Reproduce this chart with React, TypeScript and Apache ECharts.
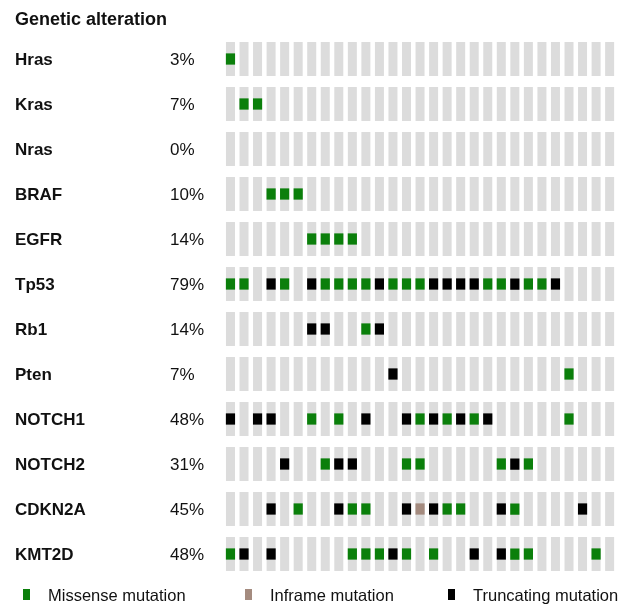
import React, { useEffect, useRef } from "react";
import * as echarts from "echarts";

const genes = ["Hras", "Kras", "Nras", "BRAF", "EGFR", "Tp53", "Rb1", "Pten", "NOTCH1", "NOTCH2", "CDKN2A", "KMT2D"];
const percentages = ["3%", "7%", "0%", "10%", "14%", "79%", "14%", "7%", "48%", "31%", "45%", "48%"];
const sampleCount = 29;
const samples = Array.from({ length: sampleCount }, (_, i) => `S${i + 1}`);

// sample indices per gene (same order as genes)
const missense = [
  [0],
  [1, 2],
  [],
  [3, 4, 5],
  [6, 7, 8, 9],
  [0, 1, 4, 7, 8, 9, 10, 12, 13, 14, 19, 20, 22, 23],
  [10],
  [25],
  [6, 8, 14, 16, 18, 25],
  [7, 13, 14, 20, 22],
  [5, 9, 10, 16, 17, 21],
  [0, 9, 10, 11, 13, 15, 21, 22, 27],
];
const inframe = [[], [], [], [], [], [], [], [], [], [], [14], []];
const truncating = [
  [],
  [],
  [],
  [],
  [],
  [3, 6, 11, 15, 16, 17, 18, 21, 24],
  [6, 7, 11],
  [12],
  [0, 2, 3, 10, 13, 15, 17, 19],
  [4, 8, 9, 21],
  [3, 8, 13, 15, 20, 26],
  [1, 3, 12, 18, 20],
];

const FONT = "'Liberation Sans', Arial, Helvetica, sans-serif";

function toPoints(lists: number[][]) {
  const out: number[][] = [];
  lists.forEach((cols, g) => cols.forEach((c) => out.push([c, g])));
  return out;
}

export default function App() {
  const ref = useRef<HTMLDivElement>(null);
  useEffect(() => {
    if (!ref.current) return;
    const chart = echarts.init(ref.current, undefined, { renderer: "svg" });

    const cellRenderer = (fill: string, wf: number, hf: number) => (params: any, api: any) => {
      const c = api.coord([api.value(0), api.value(1)]);
      const s = api.size([1, 1]);
      const w = s[0] * wf;
      const h = s[1] * hf;
      return {
        type: "rect",
        shape: { x: c[0] - w / 2, y: c[1] - h / 2, width: w, height: h },
        style: { fill },
      };
    };

    const background: number[][] = [];
    genes.forEach((_, g) => samples.forEach((__, c) => background.push([c, g])));

    const mutSeries = [
      { name: "Missense mutation", color: "#0b7f0b", data: toPoints(missense) },
      { name: "Inframe mutation", color: "#a48b7f", data: toPoints(inframe) },
      { name: "Truncating mutation", color: "#000000", data: toPoints(truncating) },
    ];

    const legendLefts = [23, 245, 448];

    chart.setOption({
      animation: false,
      title: {
        text: "Genetic alteration",
        left: 15,
        top: 9.5,
        padding: 0,
        textStyle: { fontFamily: FONT, fontSize: 18, fontWeight: "bold", color: "#111" },
      },
      legend: mutSeries.map((m, i) => ({
        data: [m.name],
        left: legendLefts[i],
        top: 586,
        padding: 0,
        icon: "rect",
        itemWidth: 7,
        itemHeight: 11,
        selectedMode: false,
        textStyle: { fontFamily: FONT, fontSize: 16.5, color: "#111", padding: [0, 0, 0, 13] },
      })),
      grid: { left: 223.7, right: 26.6, top: 36.5, bottom: 29.5, containLabel: false },
      xAxis: {
        type: "category",
        data: samples,
        show: false,
      },
      yAxis: {
        type: "category",
        data: genes,
        inverse: true,
        axisLine: { show: false },
        axisTick: { show: false },
        splitLine: { show: false },
        axisLabel: {
          align: "left",
          margin: 208.7,
          formatter: (v: string, i: number) => `{g|${v}}{p|${percentages[i]}}`,
          rich: {
            g: { width: 155, fontFamily: FONT, fontSize: 17, fontWeight: "bold", color: "#111" },
            p: { fontFamily: FONT, fontSize: 17, color: "#111" },
          },
        },
      },
      series: [
        {
          type: "custom",
          name: "bg",
          silent: true,
          z: 1,
          renderItem: cellRenderer("#dcdcdc", 0.665, 0.755),
          data: background,
        },
        ...mutSeries.map((m) => ({
          type: "custom",
          name: m.name,
          z: 2,
          itemStyle: { color: m.color },
          renderItem: cellRenderer(m.color, 0.68, 0.25),
          data: m.data,
        })),
      ],
    });
    return () => chart.dispose();
  }, []);
  return <div ref={ref} style={{ position: "fixed", left: 0, top: 0, width: 643, height: 606 }} />;
}
